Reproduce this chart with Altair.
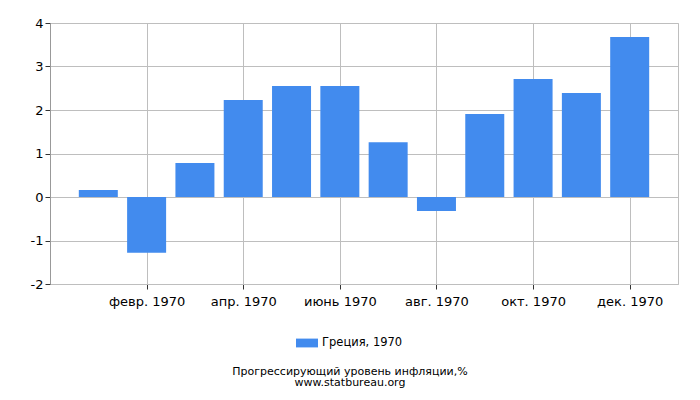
import altair as alt
import pandas as pd

months = list(range(1, 13))
month_names = ["янв. 1970", "февр. 1970", "март 1970", "апр. 1970", "май 1970", "июнь 1970",
               "июль 1970", "авг. 1970", "сент. 1970", "окт. 1970", "нояб. 1970", "дек. 1970"]
values = [0.16, -1.28, 0.78, 2.23, 2.55, 2.55, 1.26, -0.32, 1.91, 2.71, 2.39, 3.68]
series_name = "Греция, 1970"
tick_months = [2, 4, 6, 8, 10, 12]
y_ticks = [-2, -1, 0, 1, 2, 3, 4]

df = pd.DataFrame({"month": months, "value": values, "series": [series_name] * len(months)})

label_expr = "[''," + ",".join("'" + n + "'" for n in month_names) + "][datum.value]"

FONT = "DejaVu Sans"

chart = alt.Chart(df).mark_bar(size=39).encode(
    x=alt.X("month:Q",
            scale=alt.Scale(domain=[0, 13], nice=False, zero=False, padding=0),
            axis=alt.Axis(values=tick_months, labelExpr=label_expr, title=None,
                          grid=True, gridColor="#BEBEBE", domainColor="#BEBEBE",
                          tickColor="#333333", tickSize=5, labelPadding=6,
                          labelFontSize=13, labelFont=FONT, labelColor="#000000")),
    y=alt.Y("value:Q",
            scale=alt.Scale(domain=[-2, 4], nice=False, padding=0),
            axis=alt.Axis(values=y_ticks, title=None, grid=True, gridColor="#BEBEBE",
                          domainColor="#999999", tickColor="#333333", tickSize=5,
                          labelExpr="'' + datum.value",
                          labelFontSize=13, labelFont=FONT, labelColor="#000000",
                          labelPadding=2)),
    color=alt.Color("series:N", scale=alt.Scale(range=["#428BEE"]),
                    legend=alt.Legend(title=None, orient="none", legendX=246, legendY=309,
                                      symbolType="M-1,-0.4H1V0.4H-1Z", symbolSize=484,
                                      symbolStrokeWidth=0, labelFontSize=11.5, labelFont=FONT,
                                      labelColor="#000000", padding=0)),
).properties(
    width=628,
    height=261,
    autosize=alt.AutoSizeParams(type="none"),
    padding={"left": 42, "top": 15, "right": 14, "bottom": 106},
    title=alt.TitleParams(text=["Прогрессирующий уровень инфляции,%", "www.statbureau.org"],
                          orient="bottom", anchor="middle", fontSize=11, fontWeight="normal",
                          font=FONT, color="#000000", lineHeight=11, offset=17, dx=-14),
).configure_view(stroke="#BEBEBE")

chart.save("out.html", embed_options={"renderer": "svg", "actions": False})
